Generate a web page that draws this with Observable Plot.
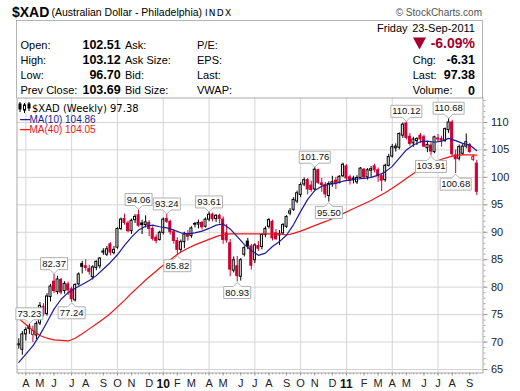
<!DOCTYPE html>
<html><head><meta charset="utf-8">
<script src="https://cdn.jsdelivr.net/npm/d3@7"></script>
<script src="https://cdn.jsdelivr.net/npm/@observablehq/plot@0.6"></script>
<style>
html,body{margin:0;padding:0;background:#fff;}
#wrap{position:relative;width:520px;height:391px;overflow:hidden;background:#fff;}
#head{position:absolute;left:0;top:0;}
#chart{position:absolute;left:0;top:96px;}
#icon{position:absolute;left:18px;top:102px;}
</style></head>
<body>
<div id="wrap">
<svg id="head" width="520" height="98" font-family="Liberation Sans, Arial, sans-serif"></svg>
<div id="chart"></div>
<svg id="icon" width="13" height="11"><g stroke="#000" fill="#000">
<line x1="2" y1="0" x2="2" y2="10"/><rect x="1" y="2" width="2" height="5"/>
<line x1="6.5" y1="1" x2="6.5" y2="11"/><rect x="5.5" y="3" width="2" height="5" fill="#fff"/>
<line x1="11" y1="0" x2="11" y2="9"/><rect x="10" y="2" width="2" height="4"/></g></svg>
</div>
<script>
// ---- weekly candles, $XAD, week of 23-Mar-2009 .. week of 19-Sep-2011 ----
const open = [69.4,68.6,71.4,72.8,71.3,71.2,73.4,76.4,75.1,78.2,
 81.0,79.1,81.3,79.3,80.5,79.6,77.6,80.5,84.2,83.8,
 83.3,81.8,83.5,83.8,86.3,85.9,87.8,86.2,87.2,90.6,
 92.4,91.6,90.2,92.2,93.1,91.6,91.3,91.7,90.6,89.0,
 88.6,89.9,92.4,91.9,90.0,88.4,86.8,88.2,89.6,89.3,
 91.5,91.4,91.7,91.0,92.3,93.2,92.4,93.0,92.3,89.8,
 88.0,83.0,83.8,81.9,85.9,88.3,87.4,84.9,87.5,87.3,
 89.5,91.0,91.9,89.8,89.4,89.8,91.0,93.4,94.1,95.6,
 96.8,98.7,99.5,98.5,97.8,101.3,98.9,98.6,96.6,98.8,
 99.4,99.0,100.2,102.0,100.0,99.8,99.1,99.9,101.4,100.0,
 101.2,102.0,101.3,100.2,99.5,102.1,103.8,105.3,105.4,107.6,
 109.8,107.4,106.2,106.6,107.6,107.3,105.3,105.8,104.6,106.9,
 107.0,106.6,108.6,110.0,104.0,103.4,104.3,105.6,105.9,103.2,
 102.51];
const high = [70.6,71.9,72.6,73.23,72.9,73.7,77.2,77.0,78.8,80.5,
 82.37,82.0,81.6,81.0,80.9,80.0,80.6,82.6,84.7,85.0,
 84.0,83.9,84.8,85.4,87.0,87.4,88.1,87.4,90.8,92.6,
 93.3,92.0,92.4,93.2,94.06,92.2,93.0,92.1,91.0,89.5,
 90.2,92.6,93.24,92.2,90.4,89.0,88.6,90.0,90.3,91.0,
 91.8,92.2,92.0,92.6,93.61,93.5,93.2,93.3,92.8,91.4,
 88.7,85.5,85.6,85.2,87.5,88.9,87.8,87.9,88.3,89.7,
 91.0,92.5,92.2,90.5,90.3,91.6,93.0,94.3,96.3,97.5,
 99.0,99.9,99.8,99.3,101.76,101.5,99.8,99.1,99.2,100.2,
 100.0,100.3,102.6,102.3,100.4,100.2,100.3,101.8,101.6,101.6,
 102.0,102.4,101.7,100.6,102.4,104.2,106.0,106.1,108.1,109.9,
 110.12,108.0,107.3,107.2,108.0,107.7,106.5,106.3,107.5,107.8,
 107.5,109.0,110.68,110.4,105.0,105.9,106.0,107.9,106.2,104.1,
 103.12];
const low = [68.7,67.6,70.2,71.4,69.9,70.4,73.0,74.6,74.7,77.3,
 78.8,78.6,78.6,78.7,78.5,77.24,77.3,80.2,82.4,82.9,
 82.2,81.3,83.0,83.3,85.8,85.6,85.7,85.9,86.9,90.3,
 91.3,89.9,89.6,91.6,90.9,89.6,90.8,89.2,88.4,87.9,
 88.4,89.5,91.6,89.5,87.8,85.82,86.3,87.0,88.4,88.9,
 90.8,90.6,90.4,90.8,91.9,91.9,91.8,91.5,87.8,88.0,
 81.9,82.6,80.93,81.1,85.5,86.8,83.1,84.3,86.5,86.8,
 89.0,90.6,88.4,88.6,87.6,89.5,90.7,93.0,93.8,95.2,
 96.3,98.3,96.8,97.3,97.5,98.7,97.3,96.2,95.50,98.2,
 97.8,98.8,100.0,99.4,98.6,98.8,98.7,99.7,99.6,99.5,
 99.8,100.8,99.1,97.4,99.1,101.9,103.5,104.6,105.0,107.1,
 106.8,105.7,105.5,105.8,106.2,105.4,104.5,103.91,104.3,106.4,
 105.5,106.4,108.0,103.8,100.68,103.0,104.0,105.2,104.4,102.9,
 96.70];
const close = [69.6,71.4,72.2,72.4,72.0,73.3,76.6,75.0,78.3,80.1,
 79.3,81.4,79.0,80.6,79.4,77.8,80.4,82.3,83.7,83.5,
 82.8,83.6,84.6,85.2,86.5,86.9,86.3,86.8,90.6,92.3,
 91.7,90.2,92.1,92.8,91.2,91.3,91.8,90.6,88.8,88.4,
 89.9,92.3,91.9,90.0,88.4,86.8,88.2,89.6,89.2,90.7,
 91.4,91.7,90.9,92.3,93.2,92.4,93.0,92.4,88.6,88.5,
 83.2,84.9,82.0,84.9,87.1,87.4,83.9,87.6,87.0,89.5,
 90.6,92.2,88.9,88.7,89.7,91.3,92.8,93.8,95.9,97.1,
 98.6,99.5,97.8,97.7,101.4,99.0,98.6,96.9,98.8,99.1,
 99.0,100.1,102.3,99.8,99.4,99.5,99.9,101.6,100.0,101.3,
 101.5,101.3,100.2,99.4,102.1,103.7,105.5,105.6,107.9,109.6,
 107.2,106.1,106.9,107.0,106.9,105.6,105.9,104.7,107.3,107.1,
 106.7,108.8,110.0,104.2,103.3,105.5,105.6,106.4,104.6,103.69,
 97.38];
// moving averages, every second week
const ma10 = [66.3,67.8,69.3,71.3,73.6,76.0,77.8,79.0,79.8,80.5,81.2,82.1,83.3,84.5,85.9,87.6,89.1,90.4,91.1,91.3,
 91.0,90.8,90.4,89.9,89.7,89.9,90.2,90.7,91.3,91.5,90.6,89.2,87.8,86.7,85.8,86.2,87.4,88.3,89.5,91.4,
 93.8,96.0,97.6,98.4,98.7,98.9,99.3,99.5,99.7,99.8,100.0,100.4,101.0,102.0,103.5,105.0,105.9,106.5,106.6,106.4,
 106.6,107.1,106.7,106.2,105.9,104.86];
const ma40 = [74.3,73.2,72.1,71.2,70.7,70.4,70.3,70.2,70.7,71.5,72.4,73.3,74.2,75.2,76.4,77.6,78.9,80.1,81.3,82.4,
 83.5,84.5,85.5,86.4,87.1,87.7,88.2,88.7,89.2,89.6,89.7,89.7,89.7,89.7,89.7,89.7,89.7,89.7,89.5,89.8,
 90.2,90.7,91.2,91.7,92.2,92.8,93.4,94.0,94.6,95.2,95.8,96.5,97.2,98.0,98.9,99.8,100.7,101.5,102.2,102.8,
 103.3,103.7,104.0,104.1,104.1,104.05];
// labelled highs / lows (week number, value)
const annAboveWeek = [3,10,34,42,54,84,110,122];
const annAboveVal  = [73.23,82.37,94.06,93.24,93.61,101.76,110.12,110.68];
const annBelowWeek = [15,45,62,88,117,124];
const annBelowVal  = [77.24,85.82,80.93,95.50,103.91,100.68];
// axis tick labels
const yTicks = [65,70,75,80,85,90,95,100,105,110];
const yMinor = d3.range(65,115,1);
const monthLetters = ["J","F","M","A","M","J","J","A","S","O","N","D"];
// legend
const legendMain = "$XAD (Weekly) 97.38";
const legendMA10 = "MA(10) 104.86";
const legendMA40 = "MA(40) 104.05";
// quote box
const quoteLabels1 = ["Open:","High:","Low:","Prev Close:"];
const quoteValues1 = ["102.51","103.12","96.70","103.69"];
const quoteLabels2 = ["Ask:","Ask Size:","Bid:","Bid Size:"];
const quoteLabels3 = ["P/E:","EPS:","Last:","VWAP:"];
const quoteLabels4 = ["Chg:","Last:","Volume:"];
const quoteValues4 = ["-6.31","97.38","0"];
const pctChange = "-6.09%";
const dayName = "Friday", dayDate = "23-Sep-2011";

const RED = "#cc0033", NAVY = "#1c1c96", MARED = "#f01414", DOWN = "#a3002b";

// ---- header ----
const H = d3.select("#head");
H.append("text").attr("x",12).attr("y",12).attr("dy","0.35em").attr("font-size",14).attr("font-weight","bold").text("$XAD");
H.append("text").attr("x",51.5).attr("y",12).attr("dy","0.35em").attr("font-size",10.5).text("(Australian Dollar - Philadelphia)");
H.append("text").attr("x",205).attr("y",12.5).attr("dy","0.35em").attr("font-size",9).attr("font-family","DejaVu Sans").attr("letter-spacing",1.2).text("INDX");
H.append("text").attr("x",482).attr("y",12).attr("dy","0.35em").attr("font-size",10).attr("text-anchor","end").attr("fill","#555").text("\u00a9 StockCharts.com");
H.append("rect").attr("x",16.5).attr("y",20.5).attr("width",466).attr("height",78).attr("fill","none").attr("stroke","#b4b4b4");
const rows = [45,60,75,90];
rows.forEach((y,k)=>{
  H.append("text").attr("x",20.5).attr("y",y).attr("dy","0.35em").attr("font-size",11).text(quoteLabels1[k]);
  H.append("text").attr("x",120.7).attr("y",y).attr("dy","0.35em").attr("font-size",12.5).attr("font-weight","bold").attr("text-anchor","end").text(quoteValues1[k]);
  H.append("text").attr("x",125).attr("y",y).attr("dy","0.35em").attr("font-size",11).text(quoteLabels2[k]);
  H.append("text").attr("x",197).attr("y",y).attr("dy","0.35em").attr("font-size",11).text(quoteLabels3[k]);
});
H.append("text").attr("x",377).attr("y",28.5).attr("dy","0.35em").attr("font-size",11).text(dayName);
H.append("text").attr("x",475).attr("y",28.5).attr("dy","0.35em").attr("font-size",11).attr("text-anchor","end").text(dayDate);
H.append("polygon").attr("points","413,37.5 426,37.5 419.5,49.5").attr("fill",DOWN);
H.append("text").attr("x",475).attr("y",43.5).attr("dy","0.35em").attr("font-size",14).attr("font-weight","bold").attr("fill",DOWN).attr("text-anchor","end").text(pctChange);
[60,75,90.5].forEach((y,k)=>{
  H.append("text").attr("x",412.7).attr("y",y).attr("dy","0.35em").attr("font-size",11).text(quoteLabels4[k]);
  H.append("text").attr("x",475).attr("y",y).attr("dy","0.35em").attr("font-size",12.5).attr("font-weight","bold").attr("text-anchor","end").text(quoteValues4[k]);
});

// ---- chart ----
const dates = d3.utcMonday.range(new Date(Date.UTC(2009,2,23)), new Date(Date.UTC(2011,8,20)));
const data = dates.map((date,i)=>{
  const prev = i ? close[i-1] : open[i];
  const col = close[i] >= prev ? "#000000" : RED;
  return {date, o:open[i], h:high[i], l:low[i], c:close[i], col, fill: close[i] < open[i] ? col : "#ffffff"};
});
const ma10Data = ma10.map((v,k)=>({date: dates[2*k], v}));
const ma40Data = ma40.map((v,k)=>({date: dates[2*k], v}));
const monthStarts = dates.filter((d,i)=> i>0 && d.getUTCMonth() !== dates[i-1].getUTCMonth());
const janTicks = monthStarts.filter(d=>d.getUTCMonth()===0);
const otherTicks = monthStarts.filter(d=>d.getUTCMonth()!==0);
const quarterTicks = monthStarts.filter(d=>d.getUTCMonth()%3===0);
const above = annAboveWeek.map((w,k)=>({date: dates[w], v: annAboveVal[k], label: annAboveVal[k].toFixed(2)}));
const below = annBelowWeek.map((w,k)=>({date: dates[w], v: annBelowVal[k], label: annBelowVal[k].toFixed(2)}));

// call-out box shapes (box with a small pointer) used as dot symbols
const PTR = 4, BOXH = 12;
function callout(w, up) {
  const s = up ? -1 : 1;
  return {draw(ctx) {
    ctx.moveTo(0, s * 0.5);
    ctx.lineTo(-PTR, s * (PTR + 0.5));
    ctx.lineTo(-w / 2, s * (PTR + 0.5));
    ctx.lineTo(-w / 2, s * (PTR + BOXH + 0.5));
    ctx.lineTo(w / 2, s * (PTR + BOXH + 0.5));
    ctx.lineTo(w / 2, s * (PTR + 0.5));
    ctx.lineTo(PTR, s * (PTR + 0.5));
    ctx.closePath();
  }};
}
const boxW = n => n === 5 ? 27 : 31;
const calloutMarks = [];
for (const [set, up] of [[above, true], [below, false]]) {
  for (const n of [5, 6]) {
    const sub = set.filter(d => d.label.length === n);
    if (!sub.length) continue;
    calloutMarks.push(Plot.dot(sub, {x: "date", y: "v", r: 4, symbol: callout(boxW(n), up), fill: "white", stroke: "#b0b0b0", strokeWidth: 1}));
  }
  calloutMarks.push(Plot.text(set, {x: "date", y: "v", text: "label", dy: (up ? -1 : 1) * (PTR + BOXH / 2 + 0.5),
    lineAnchor: "middle", fill: "#111", fontSize: 9.5, fontFamily: "Liberation Sans, Arial, sans-serif"}));
}

const chart = Plot.plot({
  width: 520, height: 295,
  marginTop: 1.5, marginBottom: 18.5, marginLeft: 16.5, marginRight: 37.5,
  style: {fontFamily: "Liberation Sans, Arial, sans-serif", fontSize: "11px", background: "transparent", color: "#222"},
  x: {type: "utc", domain: [new Date("2009-03-19T10:05:00Z"), new Date("2011-10-01T07:40:00Z")], label: null},
  y: {domain: [64.36, 114.46], label: null},
  color: {type: "identity"},
  marks: [
    Plot.gridY(yTicks, {stroke: "#d4d4d4", strokeOpacity: 1}),
    Plot.gridX(quarterTicks, {stroke: "#d4d4d4", strokeOpacity: 1}),
    Plot.ruleX(data, {x: "date", y1: "l", y2: "h", stroke: "col", strokeWidth: 1}),
    Plot.rect(data, {x1: d => d3.utcHour.offset(d.date, -48), x2: d => d3.utcHour.offset(d.date, 48),
      y1: d => Math.min(d.o, d.c), y2: d => Math.max(d.o, d.c), fill: "fill", stroke: "col", strokeWidth: 1}),
    Plot.line(ma40Data, {x: "date", y: "v", stroke: MARED, strokeWidth: 1.2}),
    Plot.line(ma10Data, {x: "date", y: "v", stroke: NAVY, strokeWidth: 1.2}),
    Plot.frame({stroke: "#aaaaaa"}),
    Plot.axisY(yMinor, {anchor: "right", tickSize: 2, fill: "none", stroke: "#aaa"}),
    Plot.axisY(yTicks, {anchor: "right", tickSize: 4, tickPadding: 4, stroke: "#999", fill: "#222", fontSize: 11}),
    Plot.axisX(dates, {anchor: "bottom", tickSize: 2, fill: "none", stroke: "#aaa"}),
    Plot.axisX(otherTicks, {anchor: "bottom", tickSize: 3, tickPadding: 3, stroke: "#999", fill: "#222", fontSize: 11,
      tickFormat: d => monthLetters[d.getUTCMonth()]}),
    Plot.axisX(janTicks, {anchor: "bottom", tickSize: 3, tickPadding: 3, stroke: "#999", fill: "#111", fontSize: 12, fontWeight: "bold",
      tickFormat: d => String(d.getUTCFullYear()).slice(2)}),
    ...calloutMarks,
    Plot.text([legendMain], {frameAnchor: "top-left", dx: 15, dy: 10.5, textAnchor: "start", lineAnchor: "middle", fill: "#000", fontSize: 10, fontFamily: "DejaVu Sans"}),
    Plot.text(["\u2014"], {frameAnchor: "top-left", dx: 3, dy: 21.5, textAnchor: "start", lineAnchor: "middle", fill: NAVY, fontSize: 10, fontWeight: "bold"}),
    Plot.text([legendMA10], {frameAnchor: "top-left", dx: 12.5, dy: 21.5, textAnchor: "start", lineAnchor: "middle", fill: NAVY, fontSize: 10}),
    Plot.text(["\u2014"], {frameAnchor: "top-left", dx: 3, dy: 32, textAnchor: "start", lineAnchor: "middle", fill: MARED, fontSize: 10, fontWeight: "bold"}),
    Plot.text([legendMA40], {frameAnchor: "top-left", dx: 12.5, dy: 32, textAnchor: "start", lineAnchor: "middle", fill: MARED, fontSize: 10})
  ]
});
document.getElementById("chart").appendChild(chart);
</script>
</body></html>
